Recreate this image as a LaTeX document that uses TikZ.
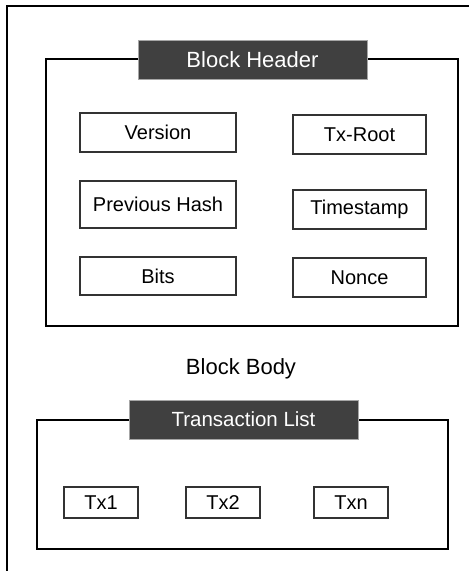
\documentclass[tikz,border=0pt]{standalone}
\usepackage{fontspec}
\setmainfont{Liberation Sans}
\definecolor{labelfill}{HTML}{404040}
\definecolor{fieldline}{HTML}{333333}
\begin{document}
\begin{tikzpicture}[x=1pt,y=-1pt,
  frame/.style={draw=black, line width=1.8pt, fill=none, inner sep=0pt},
  title/.style={draw=gray!70, line width=0.6pt, fill=labelfill, text=white, inner sep=0pt,
    font=\fontsize{20.5}{24}\selectfont},
  field/.style={draw=fieldline, line width=1.1pt, fill=white, inner sep=0pt,
    font=\fontsize{20}{23}\selectfont},
  plain/.style={inner sep=0pt, font=\fontsize{22}{26}\selectfont}]
\useasboundingbox (0,0) rectangle (469,571);
% outer border (only top and left visible)
\coordinate (otr) at (471,6);
\coordinate (otl) at (7,6);
\coordinate (obl) at (7,573);
\draw[line width=1.8pt] (otr) -- (otl) -- (obl);
% header frame
\node[frame, minimum width=412pt, minimum height=267pt] (hdrframe) at (252,192.5) {};
\node[title, minimum width=229pt, minimum height=39pt, font=\fontsize{22}{26}\selectfont] (hdr) at (252.5,59.5) {Block Header};
\node[field, minimum width=156pt, minimum height=39pt] (version) at (158,132.5) {Version};
\node[field, minimum width=133pt, minimum height=39pt] (txroot) at (359.5,134.5) {Tx-Root};
\node[field, minimum width=156pt, minimum height=47pt] (prevhash) at (158,204.5) {Previous Hash};
\node[field, minimum width=133pt, minimum height=39pt] (timestamp) at (359.5,209.5) {Timestamp};
\node[field, minimum width=156pt, minimum height=38pt] (bits) at (158,276) {Bits};
\node[field, minimum width=133pt, minimum height=39pt] (nonce) at (359.5,277.5) {Nonce};
% body
\node[plain, anchor=base] (body) at (241,374) {Block Body};
\node[frame, minimum width=411pt, minimum height=129pt] (txframe) at (242.5,484.5) {};
\node[title, minimum width=229pt, minimum height=39pt] (txlist) at (243.5,419.5) {Transaction List};
\node[field, minimum width=74pt, minimum height=31pt] (tx1) at (101,502.5) {Tx1};
\node[field, minimum width=74pt, minimum height=31pt] (tx2) at (223,502.5) {Tx2};
\node[field, minimum width=74pt, minimum height=31pt] (txn) at (351,502.5) {Txn};
\end{tikzpicture}
\end{document}
